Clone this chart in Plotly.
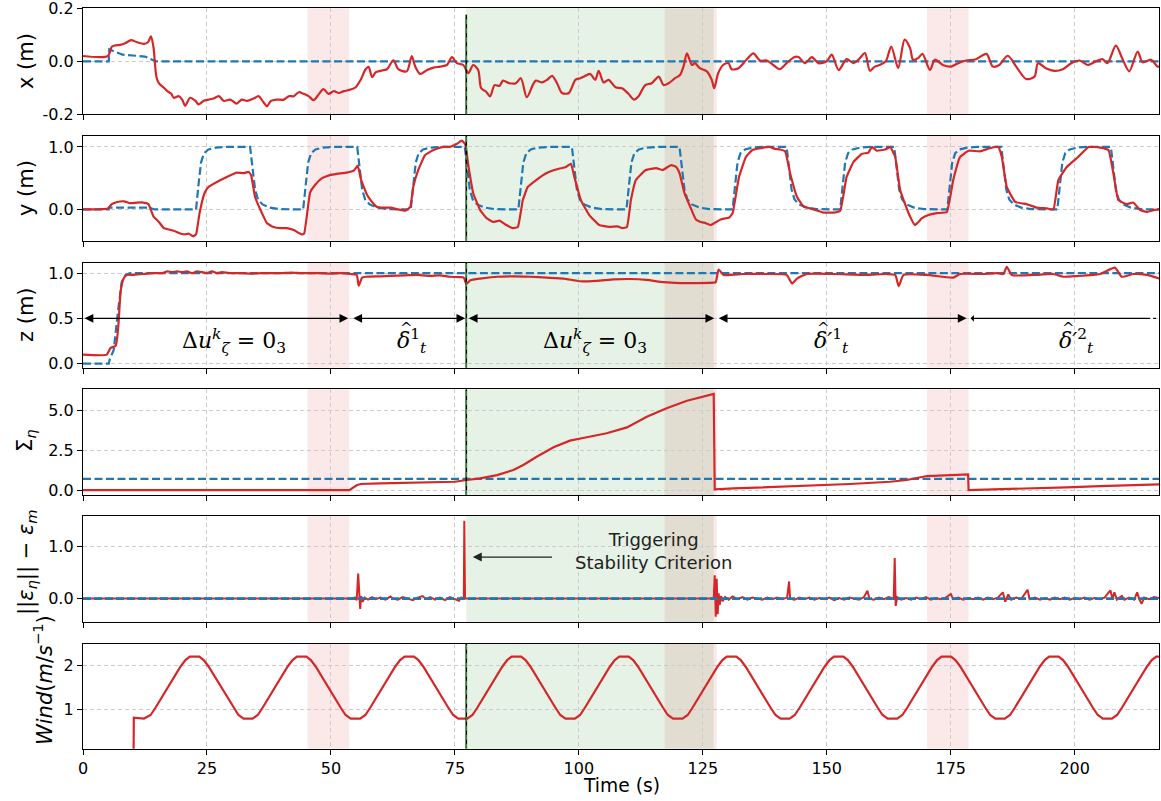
import plotly.graph_objects as go
from plotly.subplots import make_subplots

# ---------------- data (time in s, value) ----------------
x_reference = [(0, 0.0), (5.2, 0.0), (5.3, 0.045), (6.5, 0.035), (8.0, 0.025), (10.0, 0.022),
               (12.5, 0.018), (13.5, 0.01), (14.7, 0.0), (217, 0.0)]
x_actual = [(0, 0.02), (5.0, 0.02), (5.8, 0.055), (6.5, 0.06), (7.5, 0.062), (8.5, 0.068), (9.7, 0.080),
            (10.9, 0.072), (12.3, 0.066), (13.1, 0.072), (13.7, 0.094), (14.2, 0.055), (14.8, -0.058),
            (15.3, -0.083), (16.3, -0.10), (17.0, -0.113), (17.8, -0.123), (18.3, -0.138), (19.3, -0.132),
            (20.0, -0.145), (20.6, -0.168), (21.6, -0.138), (22.7, -0.15), (23.3, -0.163), (24.3, -0.15),
            (25.3, -0.145), (26.3, -0.141), (27.4, -0.132), (28.4, -0.15), (29.7, -0.145), (31.0, -0.16),
            (32.0, -0.145), (33.1, -0.15), (34.4, -0.141), (35.4, -0.132), (36.4, -0.155), (37.1, -0.17),
            (37.9, -0.15), (39.1, -0.145), (40.5, -0.145), (41.5, -0.132), (42.5, -0.132), (43.5, -0.117),
            (44.5, -0.123), (45.5, -0.132), (46.5, -0.147), (47.5, -0.126), (48.5, -0.105), (49.5, -0.123),
            (50.6, -0.113), (51.6, -0.12), (52.6, -0.113), (54.0, -0.107), (55.0, -0.098), (56.0, -0.07),
            (57.0, -0.03), (57.6, -0.021), (58.3, -0.06), (59.0, -0.042), (60.0, -0.036), (61.3, -0.03),
            (62.6, 0.004), (63.6, -0.03), (65.3, -0.038), (66.3, 0.02), (67.0, -0.02), (68.0, -0.048),
            (69.4, -0.033), (70.7, -0.024), (72.0, -0.02), (73.4, -0.014), (74.4, 0.016), (75.4, -0.007),
            (76.7, -0.014), (77.7, -0.045), (78.7, -0.014), (79.7, -0.033), (80.3, -0.102), (81.3, -0.115),
            (82.1, -0.133), (83.0, -0.09), (84.0, -0.093), (84.7, -0.073), (86.0, -0.083), (87.3, -0.083),
            (88.3, -0.064), (89.5, -0.136), (90.7, -0.09), (91.3, -0.073), (92.6, -0.08), (93.6, -0.07),
            (94.6, -0.055), (95.6, -0.083), (96.6, -0.12), (98.0, -0.12), (99.3, -0.07), (100.3, -0.064),
            (101.3, -0.055), (102.3, -0.048), (103.3, -0.07), (104.0, -0.036), (105.0, -0.08), (106.0, -0.07),
            (107.4, -0.098), (108.7, -0.102), (110.0, -0.123), (111.1, -0.145), (112.0, -0.133), (113.4, -0.09),
            (114.7, -0.083), (116.1, -0.058), (117.1, -0.09), (118.1, -0.083), (119.4, -0.064), (120.4, -0.052),
            (121.1, -0.02), (121.8, 0.03), (122.8, -0.014), (123.4, -0.007), (124.4, -0.026), (125.8, -0.038),
            (126.8, -0.07), (127.3, -0.102), (128.1, -0.045), (129.1, -0.014), (130.2, -0.007), (130.8, -0.03),
            (132.2, -0.026), (133.8, 0.006), (135.2, 0.03), (136.5, 0.003), (137.9, 0.003), (139.2, -0.014),
            (140.5, -0.03), (141.9, -0.007), (143.5, 0.016), (144.3, 0.016), (145.6, -0.007), (147.0, 0.016),
            (148.3, -0.007), (150.0, 0.0), (151.0, 0.025), (152.4, -0.033), (154.0, 0.008), (155.4, -0.007),
            (156.4, 0.006), (157.7, 0.031), (158.7, -0.036), (159.7, -0.02), (160.7, -0.014), (161.9, 0.0),
            (163.0, 0.056), (164.4, -0.026), (165.7, 0.082), (166.8, 0.05), (167.4, 0.006), (168.4, 0.012),
            (169.3, 0.028), (170.8, -0.033), (171.8, 0.006), (173.4, -0.014), (175.1, -0.02), (176.5, -0.007),
            (178.1, 0.003), (180.1, 0.008), (182.2, 0.028), (183.5, -0.02), (184.8, -0.014), (186.5, 0.021),
            (188.2, -0.02), (190.2, -0.067), (191.9, -0.058), (192.6, -0.007), (194.2, -0.026), (195.9, -0.036),
            (197.6, -0.03), (199.3, -0.007), (201.0, 0.003), (202.6, -0.014), (204.3, 0.0), (205.6, 0.008),
            (206.6, -0.007), (208.3, 0.059), (209.7, 0.006), (211.0, -0.038), (212.7, 0.037), (213.7, -0.004),
            (215.4, 0.006), (216.7, -0.02), (217.0, -0.02)]

y_reference = [(0, 0.0), (5.2, 0.0), (5.3, 0.03), (13.4, 0.03), (14.4, 0.0),
               (22.8, 0.0), (23.3, 0.4), (23.8, 0.75), (24.4, 0.9), (25.3, 0.96), (26.8, 0.99), (28.8, 1.0),
               (33.7, 1.0), (34.2, 0.6), (34.7, 0.32), (35.3, 0.16), (36.2, 0.08), (37.7, 0.03), (39.7, 0.005),
               (44.4, 0.0), (44.9, 0.4), (45.4, 0.75), (46.0, 0.9), (46.9, 0.96), (48.4, 0.99), (50.4, 1.0),
               (55.3, 1.0), (55.8, 0.6), (56.3, 0.32), (56.9, 0.16), (57.8, 0.08), (59.3, 0.03), (61.3, 0.005),
               (66.1, 0.0), (66.6, 0.4), (67.1, 0.75), (67.7, 0.9), (68.6, 0.96), (70.1, 0.99), (72.1, 1.0),
               (77.0, 1.0), (77.5, 0.6), (78.0, 0.32), (78.6, 0.16), (79.5, 0.08), (81.0, 0.03), (83.0, 0.005),
               (87.8, 0.0), (88.3, 0.4), (88.8, 0.75), (89.4, 0.9), (90.3, 0.96), (91.8, 0.99), (93.8, 1.0),
               (98.6, 1.0), (99.1, 0.6), (99.6, 0.32), (100.2, 0.16), (101.1, 0.08), (102.6, 0.03), (104.6, 0.005),
               (109.6, 0.0), (110.1, 0.4), (110.6, 0.75), (111.2, 0.9), (112.1, 0.96), (113.6, 0.99), (115.6, 1.0),
               (120.3, 1.0), (120.8, 0.6), (121.3, 0.32), (121.9, 0.16), (122.8, 0.08), (124.3, 0.03), (126.3, 0.005),
               (131.0, 0.0), (131.5, 0.4), (132.0, 0.75), (132.6, 0.9), (133.5, 0.96), (135.0, 0.99), (137.0, 1.0),
               (141.9, 1.0), (142.4, 0.6), (142.9, 0.32), (143.5, 0.16), (144.4, 0.08), (145.9, 0.03), (147.9, 0.005),
               (152.7, 0.0), (153.2, 0.4), (153.7, 0.75), (154.3, 0.9), (155.2, 0.96), (156.7, 0.99), (158.7, 1.0),
               (163.6, 1.0), (164.1, 0.6), (164.6, 0.32), (165.2, 0.16), (166.1, 0.08), (167.6, 0.03), (169.6, 0.005),
               (174.3, 0.0), (174.8, 0.4), (175.3, 0.75), (175.9, 0.9), (176.8, 0.96), (178.3, 0.99), (180.3, 1.0),
               (185.2, 1.0), (185.7, 0.6), (186.2, 0.32), (186.8, 0.16), (187.7, 0.08), (189.2, 0.03), (191.2, 0.005),
               (196.5, 0.0), (197.0, 0.4), (197.5, 0.75), (198.1, 0.9), (199.0, 0.96), (200.5, 0.99), (202.5, 1.0),
               (207.3, 1.0), (207.8, 0.6), (208.3, 0.32), (208.9, 0.16), (209.8, 0.08), (211.3, 0.03), (213.3, 0.005),
               (217.0, 0.0)]
y_actual = [(0, 0.0), (5.0, 0.016), (5.8, 0.085), (6.9, 0.12), (8.3, 0.13), (9.5, 0.10), (10.9, 0.11),
            (12.2, 0.11), (13.2, 0.085), (14.2, -0.11), (15.3, -0.2), (16.3, -0.3), (17.3, -0.32), (18.3, -0.34),
            (19.6, -0.385), (20.6, -0.40), (21.3, -0.385), (22.2, -0.43), (22.8, -0.40), (23.5, -0.06),
            (24.5, 0.26), (25.3, 0.36), (27.0, 0.44), (29.0, 0.52), (31.0, 0.59), (32.4, 0.58), (33.4, 0.60),
            (33.9, 0.55), (34.7, 0.2), (36.1, -0.06), (37.1, -0.22), (38.4, -0.28), (39.8, -0.30), (41.1, -0.30),
            (42.5, -0.33), (44.1, -0.40), (44.6, -0.385), (45.8, 0.27), (46.8, 0.39), (48.2, 0.50), (49.8, 0.55),
            (51.2, 0.57), (53.2, 0.59), (54.6, 0.62), (55.4, 0.70), (56.1, 0.47), (57.3, 0.23), (58.3, 0.12),
            (59.3, 0.04), (60.6, 0.03), (62.0, 0.03), (63.6, 0.0), (65.0, -0.02), (66.0, 0.04), (66.6, 0.36),
            (67.6, 0.63), (69.0, 0.87), (70.7, 0.95), (72.7, 1.0), (74.0, 1.0), (75.4, 1.05), (76.4, 1.1),
            (77.1, 1.04), (77.7, 0.71), (78.7, 0.26), (80.1, -0.01), (81.4, -0.14), (82.7, -0.2), (84.0, -0.18),
            (85.4, -0.25), (86.7, -0.3), (87.7, -0.28), (88.7, 0.15), (89.7, 0.36), (91.4, 0.47), (93.4, 0.58),
            (95.4, 0.64), (97.4, 0.68), (98.4, 0.73), (99.1, 0.52), (100.4, 0.15), (102.1, -0.09), (104.1, -0.25),
            (106.1, -0.28), (107.8, -0.27), (108.8, -0.3), (109.7, -0.28), (110.5, 0.15), (111.5, 0.47),
            (113.5, 0.63), (115.6, 0.66), (116.9, 0.63), (118.6, 0.71), (119.6, 0.68), (120.3, 0.58),
            (121.3, 0.26), (122.6, 0.016), (123.6, -0.16), (124.6, -0.2), (125.6, -0.22), (126.6, -0.25),
            (127.3, -0.22), (128.6, -0.16), (130.3, -0.13), (131.0, -0.06), (132.3, 0.52), (133.7, 0.84),
            (135.0, 0.95), (136.7, 0.98), (138.4, 1.0), (139.5, 0.97), (140.6, 0.96), (141.6, 0.93),
            (142.6, 0.58), (144.0, 0.2), (145.3, 0.05), (147.3, 0.0), (149.3, -0.05), (151.4, -0.05),
            (152.7, -0.02), (154.0, 0.52), (155.4, 0.76), (157.1, 0.89), (158.4, 0.91), (159.1, 1.0),
            (160.1, 0.94), (161.8, 0.96), (162.8, 1.0), (163.8, 0.84), (164.8, 0.31), (166.5, -0.06),
            (167.8, -0.25), (169.2, -0.14), (170.5, -0.09), (172.2, -0.06), (174.2, -0.04), (175.5, 0.47),
            (176.9, 0.84), (178.6, 0.94), (180.9, 0.93), (182.9, 0.98), (184.6, 1.0), (185.3, 0.84),
            (186.3, 0.36), (188.0, 0.12), (190.3, 0.085), (192.3, 0.03), (194.4, 0.016), (195.7, 0.0),
            (196.7, 0.47), (198.4, 0.68), (200.7, 0.84), (202.8, 1.0), (205.1, 0.99), (206.8, 0.95),
            (207.8, 0.58), (208.8, 0.15), (210.5, 0.085), (211.8, 0.11), (213.2, -0.01), (214.5, -0.04),
            (215.9, -0.01), (217.0, 0.0)]

z_reference = [(0, 0.0), (5.2, 0.0), (5.4, 0.05), (6.2, 0.15), (7.0, 0.55), (7.8, 0.9), (8.6, 0.98),
               (9.5, 1.0), (217, 1.0)]
z_actual = [(0, 0.1), (4.8, 0.1), (5.5, 0.17), (6.6, 0.2), (7.1, 0.4), (7.6, 0.8), (8.1, 0.93), (8.8, 0.98),
            (10, 0.98), (12, 0.99), (14, 1.0), (16, 1.0), (17, 1.02), (18, 1.01), (19, 1.02), (20, 1.01),
            (21, 1.02), (22, 1.0), (23, 1.02), (24, 1.01), (25, 1.0), (26, 1.02), (27, 1.0), (28, 1.01),
            (30, 1.0), (32, 1.0), (34, 0.995), (36, 1.0), (38, 1.0), (40, 1.0), (42, 1.005), (44, 1.0),
            (46, 1.0), (48, 1.0), (50, 0.995), (52, 1.0), (54, 0.99), (55.2, 0.98), (55.6, 0.86), (56.3, 0.95),
            (57, 0.96), (60, 0.965), (62, 0.97), (65, 0.975), (67, 0.98), (70, 0.97), (72, 0.975), (74, 0.96),
            (76, 0.955), (76.8, 0.95), (77.3, 0.88), (78.1, 0.92), (80.1, 0.94), (83.5, 0.96), (86.8, 0.965),
            (90.2, 0.96), (93.5, 0.95), (96.9, 0.94), (100.3, 0.91), (103.6, 0.915), (107.0, 0.93),
            (110.3, 0.935), (113.7, 0.925), (117.1, 0.90), (120.4, 0.89), (123.8, 0.89), (127.1, 0.895),
            (127.6, 0.9), (128.2, 1.04), (129.2, 0.98), (133.2, 0.99), (137.9, 0.99), (141.9, 0.98),
            (143.0, 0.886), (144.0, 0.94), (146.0, 0.99), (151.3, 0.99), (158.1, 0.98), (162.1, 0.99),
            (163.8, 0.98), (164.5, 0.857), (165.5, 0.98), (170.2, 0.98), (175.5, 0.95), (176.9, 0.99),
            (181.6, 0.99), (184.3, 1.0), (185.6, 0.99), (186.3, 1.07), (187.3, 0.98), (191.7, 0.98),
            (195.7, 0.99), (197.7, 0.96), (200.4, 0.967), (205.1, 0.99), (208.1, 1.06), (209.5, 0.96),
            (211.8, 0.99), (214.5, 0.98), (217.1, 0.94)]

sigma_threshold = [(0, 0.7), (217, 0.7)]
sigma_actual = [(0, 0.0), (53.7, 0.0), (55.2, 0.3), (56.0, 0.38), (60, 0.42), (65, 0.45), (70, 0.48),
                (75, 0.52), (77.4, 0.63), (80.1, 0.73), (83.5, 0.94), (86.8, 1.26), (88.8, 1.57),
                (91.5, 2.09), (94.9, 2.68), (98.2, 3.10), (101.6, 3.31), (105.6, 3.56), (109.7, 3.93),
                (113.7, 4.60), (117.7, 5.13), (121.8, 5.60), (127.2, 6.03), (127.4, 0.05), (131.2, 0.10),
                (144.6, 0.25), (154.7, 0.38), (162.8, 0.52), (166.1, 0.63), (170.2, 0.88), (174.9, 0.94),
                (178.5, 0.98), (178.6, 0.0), (184.9, 0.04), (198.4, 0.17), (205.1, 0.25), (217, 0.36)]

eps_zero = [(0, 0.0), (217, 0.0)]
eps_actual = [(0, 0.0), (54.3, 0.0), (54.8, 0.02), (55.2, -0.03), (55.5, 0.48), (55.7, -0.05), (55.9, -0.2),
              (56.1, 0.05), (56.4, -0.06), (56.8, 0.02), (57.5, -0.02), (58.3, 0.03), (59, -0.01), (60, 0.02),
              (61, -0.02), (62, 0.04), (62.5, 0.0), (63.5, -0.02), (64.5, 0.03), (65.5, 0.0), (66.5, -0.03),
              (67.5, 0.02), (68.5, 0.05), (69.2, -0.01), (70, 0.03), (71, -0.02), (72, 0.02), (73, -0.03),
              (74, 0.03), (75, -0.01), (75.8, -0.04), (76.3, 0.02), (76.8, 0.0), (76.9, 1.5), (77.05, 0.0),
              (127.2, 0.0), (127.4, 0.45), (127.6, -0.35), (127.8, 0.38), (128.0, -0.3), (128.2, 0.1),
              (128.4, -0.12), (128.7, 0.05), (129, -0.05), (129.5, 0.03), (130.2, -0.02), (131, 0.04),
              (132, -0.01), (133, 0.03), (134, -0.02), (135, 0.02), (136, 0.0), (137, -0.02), (138, 0.02),
              (139, -0.01), (140, 0.02), (141, -0.01), (142, 0.02), (142.4, 0.33), (142.6, 0.0), (143.5, -0.02),
              (144.5, 0.02), (145.5, -0.01), (146.5, 0.02), (147.5, -0.02), (148.5, 0.01), (149.5, -0.01),
              (150.5, 0.02), (151.5, -0.03), (152.5, 0.01), (153.5, -0.02), (154.5, 0.02), (155.5, 0.0),
              (156.5, -0.02), (157.5, 0.03), (158.2, 0.15), (158.6, 0.0), (159.5, -0.02), (160.5, 0.02),
              (161.5, -0.01), (162.5, 0.03), (163.5, 0.0), (163.7, 0.78), (163.9, -0.14), (164.2, 0.03),
              (165, -0.02), (166, 0.01), (167, -0.02), (168, 0.02), (169, -0.01), (170, 0.03), (171, -0.02),
              (172, 0.01), (173, -0.01), (174, 0.02), (175, 0.09), (175.5, -0.01), (176.5, 0.02),
              (177.5, -0.02), (178.5, 0.01), (179.5, -0.01), (180.5, 0.02), (181.5, -0.02), (182.5, 0.02),
              (183.5, -0.01), (184.5, 0.02), (185.5, 0.12), (186, -0.06), (186.6, 0.08), (187.2, -0.02),
              (188.2, 0.02), (189.2, -0.01), (190.5, 0.17), (190.9, -0.01), (192, 0.02), (193, -0.02),
              (194, 0.01), (195, -0.02), (196, 0.02), (197, -0.01), (198, 0.02), (199, -0.02), (200, 0.01),
              (201, -0.01), (202, 0.02), (203, -0.02), (204, 0.01), (205, -0.01), (206, 0.02), (207.2, 0.16),
              (207.6, 0.0), (208, 0.12), (208.5, -0.02), (209.5, 0.05), (210, -0.02), (211, 0.02),
              (212, -0.02), (212.6, 0.12), (213, -0.01), (213.5, -0.1), (214, 0.02), (215, -0.01),
              (216, 0.03), (217, 0.01)]

wind = [(10.2, 0.0), (10.25, 0.82), (12.3, 0.8),
        (13.65, 0.88), (14.65, 1.05), (19.65, 1.97), (20.65, 2.12), (21.55, 2.2), (23.45, 2.2), (24.35, 2.12),
        (25.35, 1.97), (30.35, 1.05), (31.35, 0.88), (32.4, 0.8),
        (34.2, 0.8), (35.25, 0.88), (36.25, 1.05), (41.25, 1.97), (42.25, 2.12), (43.15, 2.2), (45.05, 2.2),
        (45.95, 2.12), (46.95, 1.97), (51.95, 1.05), (52.95, 0.88), (54.0, 0.8),
        (55.9, 0.8), (56.95, 0.88), (57.95, 1.05), (62.95, 1.97), (63.95, 2.12), (64.85, 2.2), (66.75, 2.2),
        (67.65, 2.12), (68.65, 1.97), (73.65, 1.05), (74.65, 0.88), (75.7, 0.8),
        (77.5, 0.8), (78.55, 0.88), (79.55, 1.05), (84.55, 1.97), (85.55, 2.12), (86.45, 2.2), (88.35, 2.2),
        (89.25, 2.12), (90.25, 1.97), (95.25, 1.05), (96.25, 0.88), (97.3, 0.8),
        (99.2, 0.8), (100.25, 0.88), (101.25, 1.05), (106.25, 1.97), (107.25, 2.12), (108.15, 2.2),
        (110.05, 2.2), (110.95, 2.12), (111.95, 1.97), (116.95, 1.05), (117.95, 0.88), (119.0, 0.8),
        (120.9, 0.8), (121.95, 0.88), (122.95, 1.05), (127.95, 1.97), (128.95, 2.12), (129.85, 2.2),
        (131.75, 2.2), (132.65, 2.12), (133.65, 1.97), (138.65, 1.05), (139.65, 0.88), (140.7, 0.8),
        (142.5, 0.8), (143.55, 0.88), (144.55, 1.05), (149.55, 1.97), (150.55, 2.12), (151.45, 2.2),
        (153.35, 2.2), (154.25, 2.12), (155.25, 1.97), (160.25, 1.05), (161.25, 0.88), (162.3, 0.8),
        (164.2, 0.8), (165.25, 0.88), (166.25, 1.05), (171.25, 1.97), (172.25, 2.12), (173.15, 2.2),
        (175.05, 2.2), (175.95, 2.12), (176.95, 1.97), (181.95, 1.05), (182.95, 0.88), (184.0, 0.8),
        (185.9, 0.8), (186.95, 0.88), (187.95, 1.05), (192.95, 1.97), (193.95, 2.12), (194.85, 2.2),
        (196.75, 2.2), (197.65, 2.12), (198.65, 1.97), (203.65, 1.05), (204.65, 0.88), (205.7, 0.8),
        (207.5, 0.8), (208.55, 0.88), (209.55, 1.05), (214.55, 1.97), (215.55, 2.12), (216.45, 2.2),
        (217.5, 2.2)]

# event spans / times (s)
pink_spans = [(45.3, 53.7), (117.3, 127.8), (170.2, 178.6)]
green_span = (77.3, 127.2)
trigger_time = 77.3
phase_arrows = [(0.0, 53.5), (54.2, 77.1), (77.5, 127.3), (127.9, 178.2)]
open_arrow = (178.7, 214.6)
# (x in s, anchor, text, has_hat)
phase_labels = [
    (30.5, "center", "Δ<i>u</i><sup><i>k</i></sup><sub><i>ζ</i></sub> = 0<sub>3</sub>", False),
    (63.0, "left", "<i>δ</i><sup>1</sup><sub><i>t</i></sub>", True),
    (103.3, "center", "Δ<i>u</i><sup><i>k</i></sup><sub><i>ζ</i></sub> = 0<sub>3</sub>", False),
    (147.0, "left", "<i>δ′</i><sup>1</sup><sub><i>t</i></sub>", True),
    (196.5, "left", "<i>δ′</i><sup>2</sup><sub><i>t</i></sub>", True),
]

x_ticks = [0, 25, 50, 75, 100, 125, 150, 175, 200]
y_ranges = [[-0.2005, 0.2005], [-0.5, 1.18], [-0.045, 1.115], [-0.31, 6.32], [-0.45, 1.59], [0.12, 2.49]]
y_tickvals = [[-0.2, 0.0, 0.2], [0.0, 1.0], [0.0, 0.5, 1.0], [0.0, 2.5, 5.0], [0.0, 1.0], [1, 2]]
y_ticktext = [["-0.2", "0.0", "0.2"], ["0.0", "1.0"], ["0.0", "0.5", "1.0"], ["0.0", "2.5", "5.0"],
              ["0.0", "1.0"], ["1", "2"]]
y_titles = ["x (m)", "y (m)", "z (m)", "Σ<sub><i>η</i></sub>",
            "||<i>ε<sub>η</sub></i>|| − <i>ε<sub>m</sub></i>",
            "<i>Wind</i>(<i>m</i>/<i>s</i><sup>−1</sup>)"]

# ---------------- figure ----------------
W, H = 1161, 801
ML, MR, MT, MB = 83, 2, 8, 52
PW, PH = W - ML - MR, H - MT - MB
RED, BLUE = "#d62728", "#1f77b4"
GRID = "#cccccc"
FONT = "DejaVu Sans"


def fy(p):
    return (H - MB - p) / PH


def fx(p):
    return (p - ML) / PW


panel_px = [(8.3, 114.3), (135.7, 240.7), (262.7, 367.7), (389.3, 495.0), (516.0, 622.0), (643.7, 748.7)]
title_px = [(26, 61), (26, 188), (26, 315), (26, 441), (27, 562), (43, 680)]


def unz(pairs):
    return [p[0] for p in pairs], [p[1] for p in pairs]


fig = make_subplots(rows=6, cols=1, shared_xaxes=True)

dash = dict(color=BLUE, width=2.2, dash="8px,3.5px")

pairs = [(x_reference, x_actual, 0.8), (y_reference, y_actual, 0.35), (z_reference, z_actual, 0.5),
         (sigma_threshold, sigma_actual, 0.0)]
for i, (ref, act, sm) in enumerate(pairs, start=1):
    t, v = unz(ref)
    fig.add_trace(go.Scatter(x=t, y=v, mode="lines", line=dash, showlegend=False), row=i, col=1)
    t, v = unz(act)
    line = dict(color=RED, width=2.2)
    if sm > 0:
        line.update(shape="spline", smoothing=sm)
    fig.add_trace(go.Scatter(x=t, y=v, mode="lines", line=line, showlegend=False), row=i, col=1)

t, v = unz(eps_actual)
fig.add_trace(go.Scatter(x=t, y=v, mode="lines", line=dict(color=RED, width=2.0), showlegend=False), row=5, col=1)
t, v = unz(eps_zero)
fig.add_trace(go.Scatter(x=t, y=v, mode="lines", line=dict(color=BLUE, width=2.6, dash="8px,3px"),
                         showlegend=False), row=5, col=1)
t, v = unz(wind)
fig.add_trace(go.Scatter(x=t, y=v, mode="lines", line=dict(color=RED, width=2.2), showlegend=False),
              row=6, col=1)

for i in range(1, 7):
    sfx = "" if i == 1 else str(i)
    top, bot = panel_px[i - 1]
    fig.update_yaxes(row=i, col=1, domain=[fy(bot), fy(top)], range=y_ranges[i - 1],
                     tickvals=y_tickvals[i - 1], ticktext=y_ticktext[i - 1],
                     ticks="outside", ticklen=5, tickwidth=1.2, tickcolor="black",
                     showline=True, linecolor="black", linewidth=1.3, mirror=True,
                     showgrid=True, gridcolor=GRID, griddash="4px,3px", gridwidth=1,
                     zeroline=False, automargin=False, ticklabeloverflow="allow",
                     tickfont=dict(family=FONT, size=16, color="black"))
    fig.update_xaxes(row=i, col=1, range=[0, 217], tickvals=x_ticks, showticklabels=(i == 6),
                     ticks="outside", ticklen=5, tickwidth=1.2, tickcolor="black",
                     showline=True, linecolor="black", linewidth=1.3, mirror=True,
                     showgrid=True, gridcolor=GRID, griddash="4px,3px", gridwidth=1,
                     zeroline=False, automargin=False,
                     tickfont=dict(family=FONT, size=16, color="black"))
    xr, yd = "x" + sfx, "y" + sfx + " domain"
    for a, b in pink_spans:
        fig.add_shape(type="rect", xref=xr, yref=yd, x0=a, x1=b, y0=0, y1=1,
                      fillcolor="rgba(214,39,40,0.10)", line_width=0, layer="below")
    fig.add_shape(type="rect", xref=xr, yref=yd, x0=green_span[0], x1=green_span[1], y0=0, y1=1,
                  fillcolor="rgba(0,128,0,0.10)", line_width=0, layer="below")
    if i != 5:
        y_top = 0.94 if i == 1 else 1.0
        fig.add_shape(type="line", xref=xr, yref=yd, x0=trigger_time, x1=trigger_time, y0=0, y1=y_top,
                      line=dict(color="black", width=1.6), layer="above")
        fig.add_shape(type="line", xref=xr, yref=yd, x0=trigger_time, x1=trigger_time, y0=0, y1=y_top,
                      line=dict(color="#2ca02c", width=1.2, dash="5px,4px"), layer="above")
    cx, cy = title_px[i - 1]
    fig.add_annotation(xref="paper", yref="paper", x=fx(cx), y=fy(cy), text=y_titles[i - 1],
                       textangle=-90, showarrow=False, xanchor="center", yanchor="middle",
                       font=dict(family=FONT, size=21, color="black"))

# phase arrows in z panel
for a, b in phase_arrows:
    fig.add_annotation(xref="x3", yref="y3", axref="x3", ayref="y3", x=b, y=0.5, ax=a, ay=0.5,
                       text="", showarrow=True, arrowhead=2, arrowside="end+start", arrowsize=1.6,
                       arrowwidth=1.1, arrowcolor="black", standoff=0, startstandoff=0)
fig.add_annotation(xref="x3", yref="y3", axref="x3", ayref="y3", x=open_arrow[1], y=0.5,
                   ax=open_arrow[0], ay=0.5, text="", showarrow=True, arrowhead=2, arrowside="start",
                   arrowsize=1.6, arrowwidth=1.1, arrowcolor="black", standoff=0, startstandoff=0)
fig.add_shape(type="line", xref="x3", yref="y3", x0=open_arrow[1], x1=217, y0=0.5, y1=0.5,
              line=dict(color="black", width=1.1, dash="dot"))
for xl, anchor, txt, hat in phase_labels:
    fig.add_annotation(xref="x3", yref="y3", x=xl, y=0.25, text=txt, showarrow=False,
                       xanchor=anchor, yanchor="middle",
                       font=dict(family="DejaVu Serif", size=22, color="black"))
    if hat:
        fig.add_annotation(xref="x3", yref="y3", x=xl, y=0.25, text="^", showarrow=False,
                           xanchor="left", yanchor="middle", xshift=3, yshift=13,
                           font=dict(family="DejaVu Serif", size=15, color="black"))

# trigger annotation
fig.add_annotation(xref="x5", yref="y5", x=115.0, y=0.92, text="Triggering<br>Stability Criterion",
                   showarrow=False, xanchor="center", yanchor="middle",
                   font=dict(family=FONT, size=18, color="#222222"))
fig.add_annotation(xref="x5", yref="y5", axref="x5", ayref="y5", x=78.6, y=0.8, ax=94.9, ay=0.8,
                   text="", showarrow=True, arrowhead=2, arrowsize=1.5, arrowwidth=1.2,
                   arrowcolor="#222222", standoff=0)

# x title
fig.add_annotation(xref="paper", yref="paper", x=0.5, y=fy(786), text="Time (s)", showarrow=False,
                   xanchor="center", yanchor="middle", font=dict(family=FONT, size=18.7, color="black"))

fig.update_layout(width=W, height=H, margin=dict(l=ML, r=MR, t=MT, b=MB),
                  plot_bgcolor="white", paper_bgcolor="white", showlegend=False,
                  font=dict(family=FONT, color="black"))

fig.write_html("out.html", config={"responsive": False, "displayModeBar": False},
               post_script="document.body.style.margin='0';document.body.style.overflow='hidden';")
